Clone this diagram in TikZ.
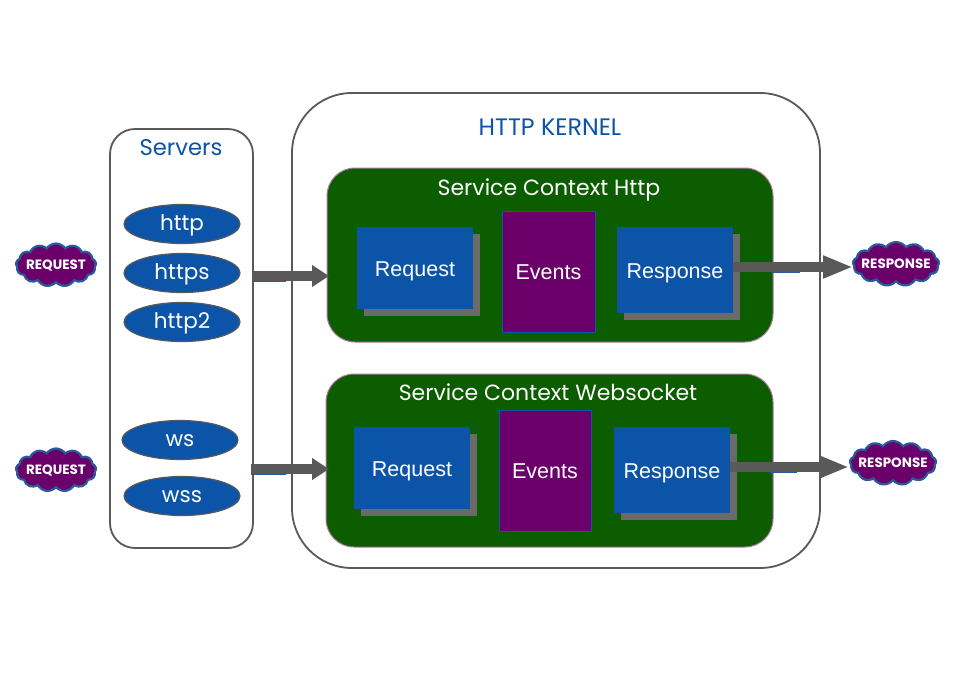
\documentclass[tikz,border=0pt]{standalone}
\usepackage{fontspec}
\setmainfont{Liberation Sans}
\newfontfamily\geo{Poppins}
\usetikzlibrary{shapes.geometric,shapes.symbols,shadows,arrows.meta}
\definecolor{kblue}{HTML}{0B54A8}
\definecolor{kgreen}{HTML}{0C5C00}
\definecolor{kpurple}{HTML}{6B006B}
\definecolor{kgray}{HTML}{595959}
\definecolor{kshadow}{HTML}{6A6A6A}
\definecolor{kmauve}{HTML}{B07AA0}
\definecolor{kedge}{HTML}{2A5A9A}
\tikzset{
  panel/.style={draw=kgray,line width=1.8pt,fill=white,rounded corners=#1,inner sep=0pt},
  ctx/.style={draw=kmauve,line width=1pt,fill=kgreen,rounded corners=28pt,inner sep=0pt},
  bluebox/.style={fill=kblue,text=white,inner sep=0pt,text height=20pt,text depth=4pt,font=\fontsize{21.5}{24}\selectfont,
    general shadow={fill=kshadow,shadow xshift=7pt,shadow yshift=-7pt}},
  evbox/.style={fill=kpurple,draw=kblue,line width=.4pt,text=white,inner sep=0pt,text height=20pt,text depth=4pt,minimum width=93pt,minimum height=121pt,font=\fontsize{21.5}{24}\selectfont},
  proto/.style={ellipse,fill=kblue,draw=kgray,line width=1.2pt,text=white,inner sep=0pt,text height=18pt,text depth=5pt,minimum width=116pt,minimum height=39pt,font=\geo\fontsize{21.5}{24}\selectfont},
  puff/.style={cloud,cloud puffs=13,cloud puff arc=110,aspect=2,fill=kpurple,draw=kedge,line width=2.2pt,text=white,inner sep=0pt,font=\geo\bfseries\fontsize{13.5}{14}\selectfont},
  titletext/.style={font=\geo\fontsize{22}{26}\selectfont},
  flow/.style={draw=kgray,line width=10pt,-{Triangle[length=#1,width=21pt]}},
  flowedge/.style={draw=kedge,line width=11pt},
}
\newcommand{\puffword}[1]{\makebox[20pt]{\raisebox{-4.5pt}[0pt][0pt]{#1}}}
\begin{document}
\begin{tikzpicture}[x=1pt,y=-1pt]
\useasboundingbox[fill=white] (0,0) rectangle (959,678);
\node[panel=25pt,minimum width=143pt,minimum height=419pt] (srv) at (181.5,338.5) {};
\node[panel=60pt,minimum width=528pt,minimum height=475pt] (kernel) at (556,330.5) {};
\node[titletext,text=kblue,font=\geo\fontsize{22.7}{26}\selectfont] (srvt) at (181,148) {Servers};
\node[titletext,text=kblue,font=\geo\fontsize{23.8}{26}\selectfont] (kernelt) at (550,127) {HTTP KERNEL};
\node[ctx,minimum width=446pt,minimum height=174pt] (c1) at (550,255) {};
\node[ctx,minimum width=447pt,minimum height=173pt] (c2) at (549.5,460.5) {};
\node[titletext,text=white] (c1t) at (549,190) {Service Context Http};
\node[titletext,text=white] (c2t) at (548,392) {Service Context Websocket};
\node[bluebox,minimum width=116pt,minimum height=82pt] (rq1) at (415,268) {Request};
\node[evbox] (ev1) at (548.5,271.5) {Events};
\node[bluebox,minimum width=116pt,minimum height=86pt] (rs1) at (675,270) {Response};
\node[bluebox,minimum width=116pt,minimum height=82pt] (rq2) at (412,468) {Request};
\node[evbox,minimum width=92pt] (ev2) at (545,470.5) {Events};
\node[bluebox,minimum width=116pt,minimum height=86pt] (rs2) at (672,470) {Response};
\node[proto] (p1) at (182,224) {http};
\node[proto] (p2) at (182,273) {https};
\node[proto] (p3) at (182,322) {http2};
\node[proto] (p4) at (180,440) {ws};
\node[proto] (p5) at (182,496) {wss};
\node[puff,minimum width=80pt,minimum height=43pt] (in1) at (56,265) {\puffword{REQUEST}};
\node[puff,minimum width=80pt,minimum height=43pt] (in2) at (56,470) {\puffword{REQUEST}};
\node[puff,minimum width=86pt,minimum height=44pt] (out1) at (896,264) {\puffword{RESPONSE}};
\node[puff,minimum width=86pt,minimum height=44pt] (out2) at (893,463) {\puffword{RESPONSE}};
\coordinate (a1s) at (253,276); \coordinate (a1m) at (286,276); \coordinate (a1e) at (329,276);
\coordinate (a2s) at (251,469); \coordinate (a2m) at (286,469); \coordinate (a2e) at (329,469);
\coordinate (a3s) at (772,267); \coordinate (a3m) at (800,267); \coordinate (a3e) at (853,267);
\coordinate (a4s) at (770,467); \coordinate (a4m) at (797,467); \coordinate (a4e) at (849,467);
\coordinate (a3b) at (733,267); \coordinate (a4b) at (730,467);
\draw[flowedge] (a1s) -- (a1m);
\draw[flowedge] (a2s) -- (a2m);
\draw[flowedge] (a3s) -- (a3m);
\draw[flowedge] (a4s) -- (a4m);
\draw[flow=17pt] (a1s) -- (a1e);
\draw[flow=17pt] (a2s) -- (a2e);
\draw[flow=30pt] (a3b) -- (a3e);
\draw[flow=30pt] (a4b) -- (a4e);
\end{tikzpicture}
\end{document}
